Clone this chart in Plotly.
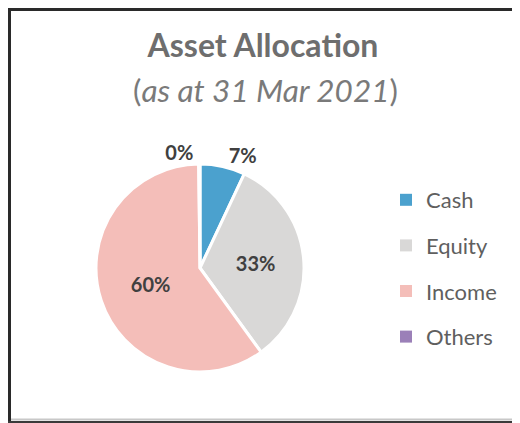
import plotly.graph_objects as go

categories = ["Cash", "Equity", "Income", "Others"]
values = [7.0, 33.0, 59.8, 0.2]
colors = ["#4BA1CE", "#D9D8D7", "#F4BEB9", "#9B80B8"]
label_pos = ["outside", "inside", "inside", "outside"]

# page has 8px body margin: figure coords = reference coords - 8
W, H = 512, 415
OFF = 8
FONT = "Lato"


def px(x):
    return (x - OFF) / W


def py(y):
    return 1 - (y - OFF) / H


fig = go.Figure()
fig.add_trace(go.Pie(
    labels=categories, values=values, sort=False, direction="clockwise",
    rotation=0, marker=dict(colors=colors, line=dict(color="white", width=3)),
    texttemplate="<b>%{percent:.0%}</b>", textposition=label_pos,
    insidetextorientation="horizontal",
    textfont=dict(family=FONT, size=20, color="#404040"),
    showlegend=False,
    domain=dict(x=[px(96), px(304)], y=[py(372), py(164)]),
    hoverinfo="label+percent",
))
for c, col in zip(categories, colors):
    fig.add_trace(go.Scatter(
        x=[None], y=[None], mode="markers", name=c, legendgroup=c,
        marker=dict(symbol="square", size=8, color=col),
    ))

fig.update_layout(
    width=W, height=H,
    margin=dict(l=0, r=0, t=0, b=0),
    paper_bgcolor="white", plot_bgcolor="white",
    xaxis=dict(visible=False), yaxis=dict(visible=False),
    font=dict(family=FONT),
    title=dict(text="<b>Asset Allocation</b>", x=px(263), xanchor="center",
               y=py(46), yanchor="middle",
               font=dict(family=FONT, size=32, color="#6E6E6E")),
    legend=dict(x=px(386), xanchor="left", y=py(179), yanchor="top",
                font=dict(family=FONT, size=22, color="#5F5F5F"),
                tracegroupgap=14, itemsizing="constant",
                bgcolor="rgba(0,0,0,0)"),
    annotations=[dict(
        text="(<i>as at 31 Mar 2021</i>)", xref="paper", yref="paper",
        x=px(265), y=py(90), xanchor="center", yanchor="middle",
        showarrow=False, font=dict(family=FONT, size=31.5, color="#7A7A7A"))],
    shapes=[
        dict(type="line", xref="paper", yref="paper", x0=0, x1=1,
             y0=1 - 1.5 / H, y1=1 - 1.5 / H, line=dict(color="#2A2A2A", width=3)),
        dict(type="line", xref="paper", yref="paper", x0=1.5 / W, x1=1.5 / W,
             y0=0, y1=1, line=dict(color="#2A2A2A", width=3)),
        dict(type="line", xref="paper", yref="paper", x0=3 / W, x1=1,
             y0=py(419.5), y1=py(419.5), line=dict(color="#C8C8C8", width=2)),
        dict(type="line", xref="paper", yref="paper", x0=0, x1=1,
             y0=py(422), y1=py(422), line=dict(color="#3A3A3A", width=2)),
    ],
)

fig.write_html("out.html")
